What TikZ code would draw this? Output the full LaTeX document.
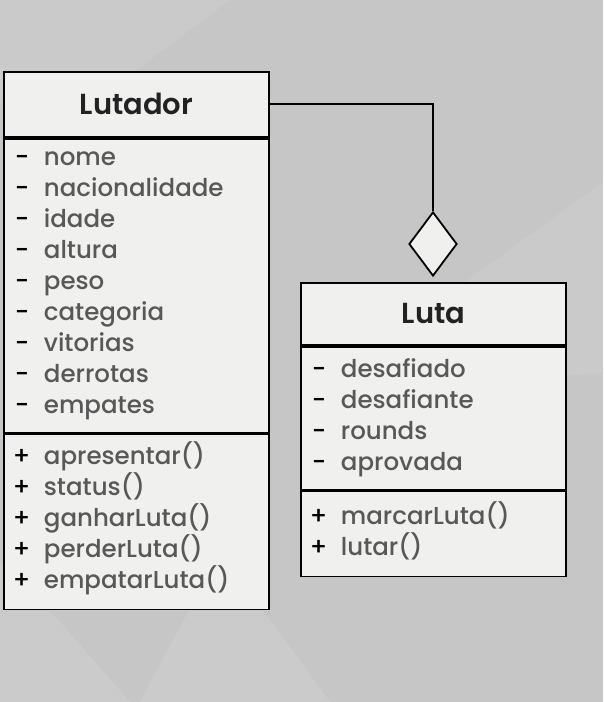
\documentclass[tikz,border=0pt]{standalone}
\usepackage{fontspec}
\setmainfont{Poppins}[UprightFont=*-Medium,BoldFont=*-SemiBold]
\usetikzlibrary{positioning,shapes.geometric}

\definecolor{bgGray}{RGB}{197,198,197}
\definecolor{bgLight}{RGB}{205,206,205}
\definecolor{boxFill}{RGB}{240,241,239}
\definecolor{itemGray}{RGB}{88,88,88}
\definecolor{titleInk}{RGB}{34,34,34}

\newcommand{\priv}[1]{\makebox[31pt][l]{\hspace{2pt}\textcolor{black}{-}}#1}
\newcommand{\publ}[1]{\makebox[31pt][l]{\textcolor{black}{+}}#1}

\tikzset{
  classtitle/.style={draw=black,line width=1.8pt,fill=boxFill,minimum width=265pt,
    inner sep=0pt,text=titleInk,font=\fontsize{29}{32}\selectfont\bfseries},
  classpart/.style={draw=black,line width=1.8pt,fill=boxFill,text width=247pt,
    inner xsep=9pt,inner ysep=0pt,align=left,text=itemGray,
    font=\fontsize{24.5}{31}\selectfont},
  aggdiamond/.style={diamond,draw=black,line width=1.8pt,fill=boxFill,
    minimum width=48pt,minimum height=64pt,inner sep=0pt,aspect=0.75}
}

\begin{document}
\begin{tikzpicture}[x=1pt,y=1pt]
	\fill[bgGray] (0,0) rectangle (603,702);
	\fill[bgLight,opacity=0.6] (0,702) -- (230,702) -- (40,560) -- (0,600) -- cycle;
	\fill[bgLight,opacity=0.6] (300,300) -- (603,520) -- (603,330) -- cycle;
	\fill[bgLight,opacity=0.7] (0,0) -- (0,140) -- (60,80) -- (130,0) -- cycle;
	\fill[bgLight,opacity=0.7] (140,0) -- (220,150) -- (330,0) -- cycle;
	\useasboundingbox (0,0) rectangle (603,702);

	% Lutador
	\node[classtitle,minimum height=65pt,anchor=north west] (lutTitle) at (3,631) {Lutador};
	\node[classpart,minimum height=294pt,below=0pt of lutTitle] (lutAttr) {%
		\priv{nome}\\ \priv{nacionalidade}\\ \priv{idade}\\ \priv{altura}\\
		\priv{peso}\\ \priv{categoria}\\ \priv{vitorias}\\ \priv{derrotas}\\ \priv{empates}};
	\node[classpart,minimum height=175pt,below=0pt of lutAttr] (lutMeth) {%
		\publ{apresentar()}\\ \publ{status()}\\ \publ{ganharLuta()}\\
		\publ{perderLuta()}\\ \publ{empatarLuta()}\par\vspace{8pt}};

	% Luta
	\node[classtitle,minimum height=62pt,anchor=north west] (lutaTitle) at (300,420) {Luta};
	\node[classpart,minimum height=143pt,below=0pt of lutaTitle] (lutaAttr) {%
		\priv{desafiado}\\ \priv{desafiante}\\ \priv{rounds}\\ \priv{aprovada}};
	\node[classpart,minimum height=85pt,below=0pt of lutaAttr] (lutaMeth) {%
		\publ{marcarLuta()}\\ \publ{lutar()}\par\vspace{6pt}};

	% agregacao
	\node[aggdiamond] (agg) at (433,458) {};
	\draw[line width=1.8pt] (lutTitle.east) -| (agg.north);
\end{tikzpicture}
\end{document}
